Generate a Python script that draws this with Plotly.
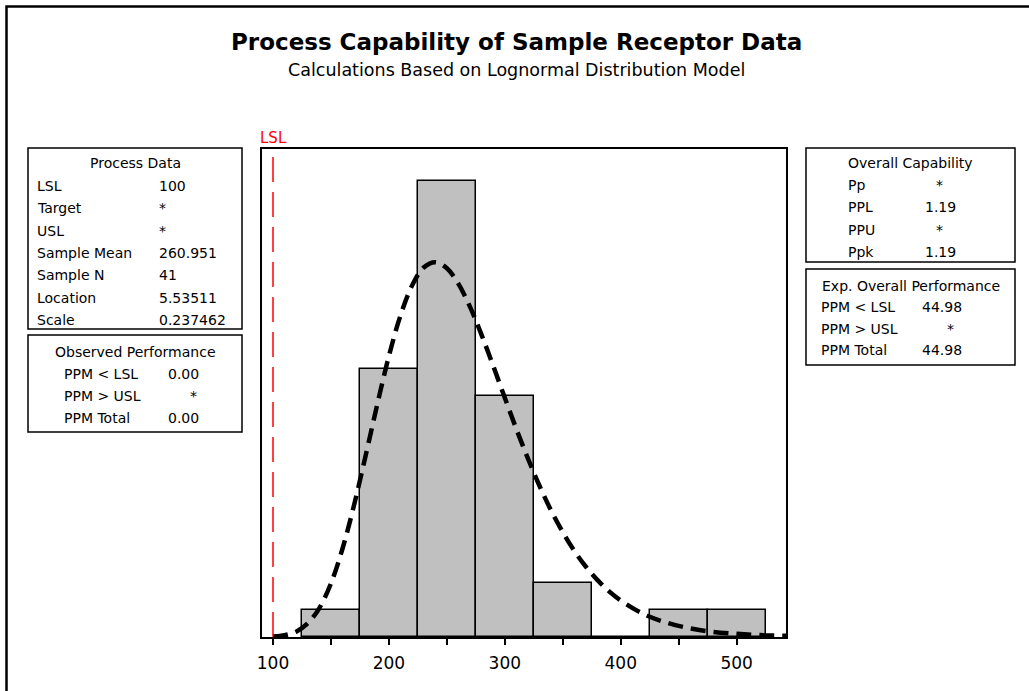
import plotly.graph_objects as go

# ---------------- data ----------------
bin_centers = [150, 200, 250, 300, 350, 400, 450, 500]
bin_counts = [1, 10, 17, 9, 2, 0, 1, 1]
bin_width = 50

curve_x = [100, 110, 120, 130, 140, 150, 160, 170, 180, 190, 200, 210, 220, 230, 240,
           250, 260, 270, 280, 290, 300, 310, 320, 330, 340, 350, 360, 370, 380, 390,
           400, 420, 440, 460, 480, 500, 520, 545]
curve_y = [0.016, 0.065, 0.20, 0.51, 1.08, 2.00, 3.30, 4.93, 6.78, 8.68, 10.48, 11.99,
           13.11, 13.78, 13.98, 13.75, 13.17, 12.31, 11.26, 10.11, 8.92, 7.75, 6.65,
           5.63, 4.71, 3.91, 3.21, 2.62, 2.12, 1.70, 1.36, 0.85, 0.53, 0.32, 0.19,
           0.12, 0.07, 0.04]

lsl_value = 100
x_ticks = [100, 150, 200, 250, 300, 350, 400, 450, 500]
x_tick_text = ["100", "", "200", "", "300", "", "400", "", "500"]

title_text = "Process Capability of Sample Receptor Data"
subtitle_text = "Calculations Based on Lognormal Distribution Model"

process_title = "Process Data"
process_labels = ["LSL", "Target", "USL", "Sample Mean", "Sample N", "Location", "Scale"]
process_values = ["100", "*", "*", "260.951", "41", "5.53511", "0.237462"]

observed_title = "Observed Performance"
observed_labels = ["PPM < LSL", "PPM > USL", "PPM Total"]
observed_values = ["0.00", "*", "0.00"]

capability_title = "Overall Capability"
capability_labels = ["Pp", "PPL", "PPU", "Ppk"]
capability_values = ["*", "1.19", "*", "1.19"]

expected_title = "Exp. Overall Performance"
expected_labels = ["PPM < LSL", "PPM > USL", "PPM Total"]
expected_values = ["44.98", "*", "44.98"]

# ---------------- layout geometry ----------------
W, H = 1029, 691
PL, PR, PT, PB = 262, 786, 149, 637  # plot area in pixels
FONT = "DejaVu Sans"
BOX_FONT = 14


def px(x):
    return (x - PL) / (PR - PL)


def py(y):
    return (PB - y) / (PB - PT)


fig = go.Figure()

fig.add_trace(go.Bar(
    x=bin_centers, y=bin_counts, width=bin_width,
    marker=dict(color="#C0C0C0", line=dict(color="black", width=1.5)),
    showlegend=False, hoverinfo="skip",
))

fig.add_trace(go.Scatter(
    x=curve_x, y=curve_y, mode="lines",
    line=dict(color="black", width=4.5, dash="15px,8px", shape="spline"),
    showlegend=False, hoverinfo="skip",
))

shapes = []
annotations = []

# LSL line
shapes.append(dict(type="line", xref="x", yref="paper", x0=lsl_value, x1=lsl_value,
                   y0=0, y1=py(157), line=dict(color="#FF0000", width=1.5, dash="25px,10px")))
annotations.append(dict(xref="x", yref="paper", x=lsl_value, y=py(138), text="LSL",
                        showarrow=False, xanchor="center", yanchor="middle",
                        font=dict(family=FONT, size=15, color="#FF0000")))

# outer border (extends past right/bottom edge)
shapes.append(dict(type="rect", xref="paper", yref="paper", x0=px(6.5), x1=px(1040),
                   y0=py(700), y1=py(6.5), line=dict(color="black", width=2.5)))

# titles
annotations.append(dict(xref="paper", yref="paper", x=px(516), y=py(42), text="<b>" + title_text + "</b>",
                        showarrow=False, xanchor="center", yanchor="middle",
                        font=dict(family=FONT, size=23, color="black")))
annotations.append(dict(xref="paper", yref="paper", x=px(516), y=py(70), text=subtitle_text,
                        showarrow=False, xanchor="center", yanchor="middle",
                        font=dict(family=FONT, size=17.5, color="black")))


def add_box(x0, x1, y0, y1, title, title_y, labels, values, label_x, value_x, row_y0, row_dy):
    shapes.append(dict(type="rect", xref="paper", yref="paper", x0=px(x0), x1=px(x1),
                       y0=py(y1), y1=py(y0), line=dict(color="black", width=1.5)))
    annotations.append(dict(xref="paper", yref="paper", x=px((x0 + x1) / 2), y=py(title_y),
                            text=title, showarrow=False, xanchor="center", yanchor="middle",
                            font=dict(family=FONT, size=BOX_FONT, color="black")))
    for i, (lab, val) in enumerate(zip(labels, values)):
        yy = row_y0 + i * row_dy
        annotations.append(dict(xref="paper", yref="paper", x=px(label_x), y=py(yy), text=lab,
                                showarrow=False, xanchor="left", yanchor="middle",
                                font=dict(family=FONT, size=BOX_FONT, color="black")))
        vx_use = value_x[1] if val == "*" else value_x[0]
        annotations.append(dict(xref="paper", yref="paper", x=px(vx_use), y=py(yy), text=val,
                                showarrow=False, xanchor="left", yanchor="middle",
                                font=dict(family=FONT, size=BOX_FONT, color="black")))


add_box(28, 242, 148, 329, process_title, 163, process_labels, process_values,
        35, (157, 157), 186, 22.3)
add_box(28, 242, 335, 432, observed_title, 352, observed_labels, observed_values,
        62, (166, 188), 374, 22)
add_box(806, 1015, 148, 262, capability_title, 163, capability_labels, capability_values,
        846, (923, 934), 185, 22.3)
add_box(806, 1015, 269, 365, expected_title, 286, expected_labels, expected_values,
        819, (920, 945), 307, 21.5)

fig.update_layout(
    width=W, height=H,
    margin=dict(l=PL, r=W - PR, t=PT, b=H - PB, pad=0),
    paper_bgcolor="white", plot_bgcolor="white",
    bargap=0, showlegend=False,
    shapes=shapes, annotations=annotations,
    xaxis=dict(range=[90.5, 542.6], tickmode="array", tickvals=x_ticks, ticktext=x_tick_text,
               ticks="outside", ticklen=6, tickwidth=1.5, tickcolor="black",
               ticklabelstandoff=4,
               showline=True, linecolor="black", linewidth=1.5, mirror=True,
               showgrid=False, zeroline=False,
               tickfont=dict(family=FONT, size=17, color="black")),
    yaxis=dict(range=[0, 18.2], showticklabels=False, ticks="", showgrid=False, zeroline=False,
               showline=True, linecolor="black", linewidth=1.5, mirror=True),
)

fig.write_html("out.html")
